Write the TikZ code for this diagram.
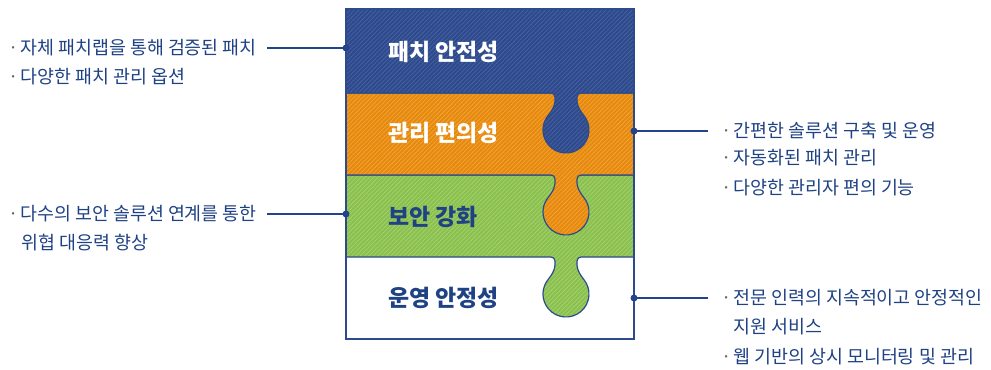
\documentclass[tikz,border=0pt]{standalone}
\usepackage{fontspec}
\setmainfont{Noto Sans CJK KR}
\usetikzlibrary{patterns.meta}
\definecolor{navy}{HTML}{23438A}
\definecolor{txtnavy}{HTML}{1F4285}
\definecolor{edge}{HTML}{2D4B8C}
\definecolor{bluebase}{HTML}{2E4A8C}
\definecolor{bluestripe}{HTML}{4863A2}
\definecolor{orangebase}{HTML}{E6890D}
\definecolor{orangestripe}{HTML}{F2A53C}
\definecolor{greenbase}{HTML}{8AC04E}
\definecolor{greenstripe}{HTML}{A6D272}
\definecolor{bulgray}{HTML}{666666}
\newcommand\bul{\makebox[9pt][l]{\textcolor{bulgray}{·}}}
\newcommand\piecepath[2]{(346,#1) -- (634,#1) -- (634,#2) -- (581,#2)
  arc[start angle=90,end angle=180,radius=4] -- (577,{#2-8})
  .. controls (577,{#2-13}) and (581,{#2-19.1}) .. (583.6,{#2-22.2})
  arc[start angle=40,end angle=-220,radius=23]
  .. controls (551,{#2-19.1}) and (555,{#2-13}) .. (555,{#2-8})
  -- (555,{#2-4}) arc[start angle=0,end angle=90,radius=4] -- (346,#2) -- cycle}
\tikzset{
  piece/.style n args={2}{preaction={fill=#1},
    pattern={Lines[angle=45,distance=2.3pt,line width=0.55pt]}, pattern color=#2,
    draw=edge, line width=0.9pt},
  title/.style={font=\fontsize{17.2pt}{20pt}\selectfont\bfseries, anchor=west, inner sep=0pt,
    text height=0.8em, text depth=0.2em, yshift=-3.4pt},
  item/.style={font=\fontsize{13.8pt}{16pt}\selectfont, text=txtnavy, anchor=west, inner sep=0pt,
    text height=0.8em, text depth=0.2em, yshift=-2.2pt},
  conn/.style={draw=navy, line width=0.9pt},
  dotend/.style={fill=navy}
}
\begin{document}
\begin{tikzpicture}[x=0.75pt,y=0.75pt]
\useasboundingbox (0,0) rectangle (991,369);
% pieces, bottom to top
\fill[white] (346,30) rectangle (634,112);
\path[piece={greenbase}{greenstripe}] \piecepath{194}{112};
\path[piece={orangebase}{orangestripe}] \piecepath{276}{194};
\path[piece={bluebase}{bluestripe}] \piecepath{360}{276};
\draw[edge, line width=0.9pt] (346,30) rectangle (634,360);
% titles
\node[title, text=white] (t1) at (388,317) {패치 안전성};
\node[title, text=white] (t2) at (388,236) {관리 편의성};
\node[title, text=txtnavy] (t3) at (388,152) {보안 강화};
\node[title, text=txtnavy] (t4) at (388,71) {운영 안정성};
% left texts
\node[item] (l1a) at (8,321) {\bul 자체 패치랩을 통해 검증된 패치};
\node[item] (l1b) at (8,292) {\bul 다양한 패치 관리 옵션};
\node[item] (l2a) at (8,155) {\bul 다수의 보안 솔루션 연계를 통한};
\node[item] (l2b) at (21,126) {위협 대응력 향상};
% right texts
\node[item] (r1a) at (721,238) {\bul 간편한 솔루션 구축 및 운영};
\node[item] (r1b) at (721,211) {\bul 자동화된 패치 관리};
\node[item] (r1c) at (721,181) {\bul 다양한 관리자 편의 기능};
\node[item] (r2a) at (721,71) {\bul 전문 인력의 지속적이고 안정적인};
\node[item] (r2b) at (733,42) {지원 서비스};
\node[item] (r2c) at (721,12) {\bul 웹 기반의 상시 모니터링 및 관리};
% connector endpoints
\coordinate (cl1) at (267,321); \coordinate (dl1) at (346,321);
\coordinate (cl2) at (267,155); \coordinate (dl2) at (346,155);
\coordinate (cr1) at (708,238); \coordinate (dr1) at (634,238);
\coordinate (cr2) at (708,71);  \coordinate (dr2) at (634,71);
\draw[conn] (cl1) -- (dl1); \fill[dotend] (dl1) circle[radius=3.5];
\draw[conn] (cl2) -- (dl2); \fill[dotend] (dl2) circle[radius=3.5];
\draw[conn] (cr1) -- (dr1); \fill[dotend] (dr1) circle[radius=3.5];
\draw[conn] (cr2) -- (dr2); \fill[dotend] (dr2) circle[radius=3.5];
\end{tikzpicture}
\end{document}
